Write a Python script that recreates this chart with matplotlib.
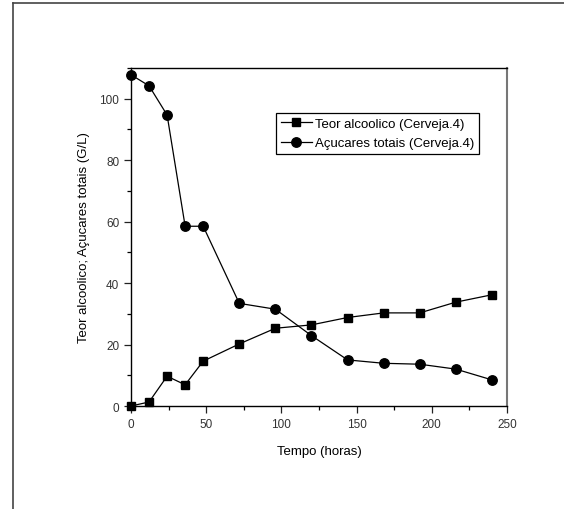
import matplotlib
matplotlib.use("Agg")
import matplotlib.pyplot as plt
from matplotlib.lines import Line2D
from matplotlib.ticker import MultipleLocator

plt.rcParams['font.family'] = ['Liberation Sans', 'DejaVu Sans']

tempo = [0, 12, 24, 36, 48, 72, 96, 120, 144, 168, 192, 216, 240]
teor_alcoolico = [0.0, 1.3, 9.7, 6.9, 14.6, 20.2, 25.3, 26.4, 28.8, 30.3, 30.3, 33.8, 36.2]
acucares_totais = [107.8, 104.2, 94.7, 58.5, 58.5, 33.4, 31.5, 22.9, 15.0, 13.9, 13.6, 12.0, 8.5]

W, H = 564, 510
fig = plt.figure(figsize=(W / 100, H / 100), dpi=100)
ax = fig.add_axes([131 / W, 1 - 407 / H, (507 - 131) / W, (407 - 69) / H])

ax.plot(tempo, teor_alcoolico, color='black', lw=0.9, marker='s', ms=5.5,
        label='Teor alcoolico (Cerveja.4)', clip_on=False, zorder=3)
ax.plot(tempo, acucares_totais, color='black', lw=0.9, marker='o', ms=6.8,
        label='Açucares totais (Cerveja.4)', clip_on=False, zorder=3)

ax.set_xlim(0, 250)
ax.set_ylim(0, 110)
ax.xaxis.set_major_locator(MultipleLocator(50))
ax.xaxis.set_minor_locator(MultipleLocator(25))
ax.yaxis.set_major_locator(MultipleLocator(20))
ax.yaxis.set_minor_locator(MultipleLocator(10))
ax.tick_params(which='major', direction='out', length=5, width=0.9, labelsize=8.5, colors='#222222')
ax.tick_params(which='minor', direction='out', length=3, width=0.9)
ax.tick_params(axis='both', labelcolor='#333333')

for s in ['left', 'bottom', 'top']:
    ax.spines[s].set_color('black')
    ax.spines[s].set_linewidth(1.0)
ax.spines['right'].set_color('#777777')
ax.spines['right'].set_linewidth(1.5)

ax.set_xlabel('Tempo (horas)', fontsize=9.5, labelpad=11)
ax.set_ylabel('Teor alcoolico; Açucares totais (G/L)', fontsize=9.5, labelpad=7)

leg = ax.legend(loc='upper left', bbox_to_anchor=((276 - 131) / (507 - 131), (407 - 114) / (407 - 69)),
                fontsize=9.5, frameon=True, fancybox=False, edgecolor='black',
                handlelength=2.4, handletextpad=0.2, borderpad=0.35, labelspacing=0.55,
                borderaxespad=0)
leg.get_frame().set_linewidth(0.9)
leg.get_frame().set_alpha(1)

# outer page frame (top and left only)
fig.add_artist(Line2D([13 / W, 1.0], [1 - 4 / H, 1 - 4 / H], color='#444444', lw=1.2))
fig.add_artist(Line2D([13 / W, 13 / W], [0.0, 1 - 4 / H], color='#444444', lw=1.2))

fig.savefig('out.png', dpi=100, facecolor='white')
